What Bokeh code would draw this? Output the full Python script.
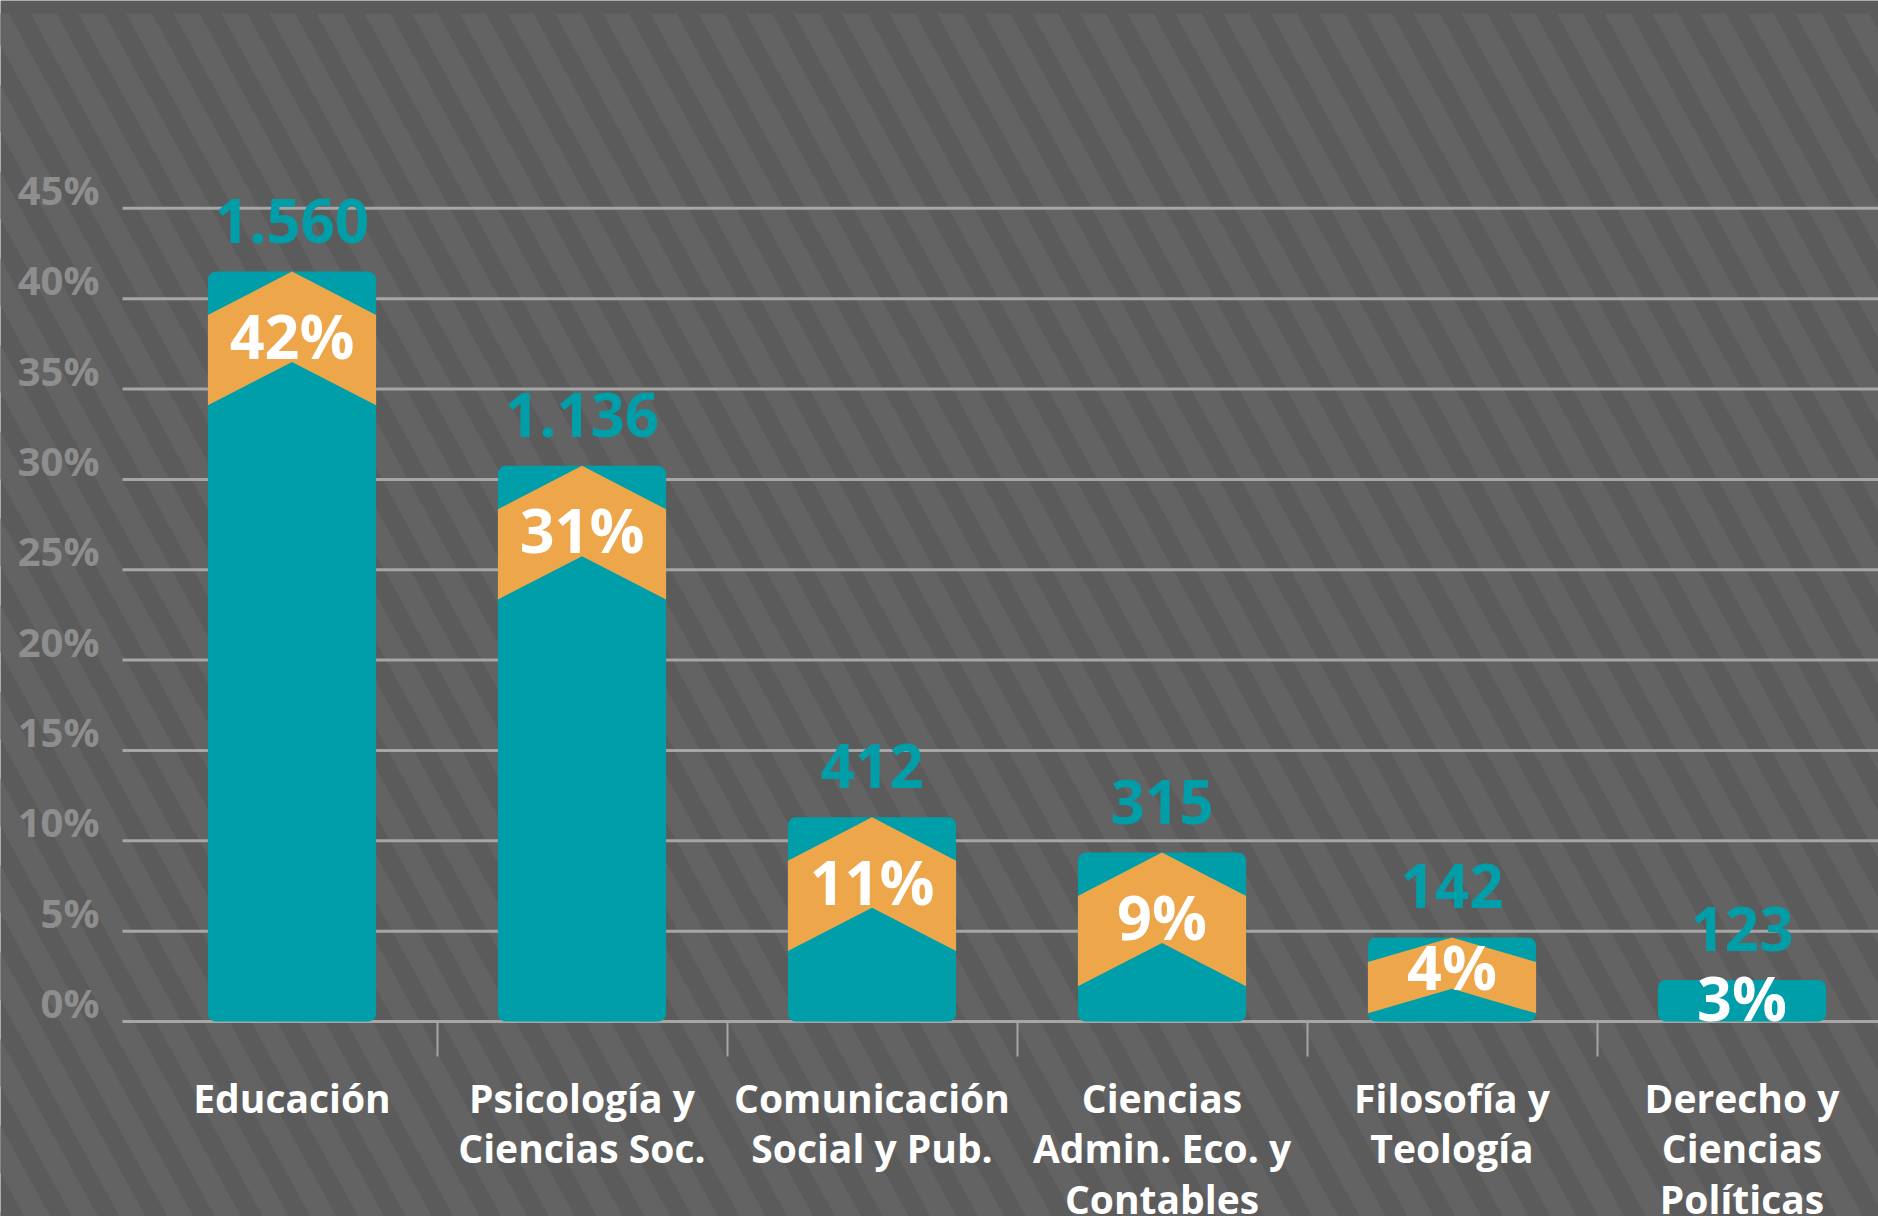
import numpy as np
from bokeh.plotting import figure
from bokeh.models import Range1d, FixedTicker, LinearAxis, ColumnDataSource
from bokeh.core.properties import value
from bokeh.embed import file_html
from bokeh.resources import INLINE

# ---------------- data ----------------
categories = [
    "Educación",
    "Psicología y\nCiencias Soc.",
    "Comunicación\nSocial y Pub.",
    "Ciencias\nAdmin. Eco. y\nContables",
    "Filosofía y\nTeología",
    "Derecho y\nCiencias\nPolíticas",
]
counts = [1560, 1136, 412, 315, 142, 123]
count_labels = ["1.560", "1.136", "412", "315", "142", "123"]
pct_labels = ["42%", "31%", "11%", "9%", "4%", "3%"]
bar_heights = [41.5, 30.75, 11.3, 9.35, 4.65, 2.3]   # % as drawn
y_ticks = [0, 5, 10, 15, 20, 25, 30, 35, 40, 45]
y_tick_labels = ["0%", "5%", "10%", "15%", "20%", "25%", "30%", "35%", "40%", "45%"]

# ---------------- style / layout ----------------
TEAL = "#009ea9"
ORANGE = "#eea64b"
BG = "#5b5b5b"
STRIPE = "#636363"
GRID = "#a6a6a6"
TICK_TXT = "#8e8e8e"

W, H = 1878, 1216
X0_PX, XSTEP = 291.5, 290.0      # pixel of first category centre, px per category
Y0_PX, YSCALE = 1021.0, 18.07    # pixel of 0 %, px per 1 %


def px_to_x(cx):
    return (cx - X0_PX) / XSTEP


def px_to_y(cy):
    return (Y0_PX - cy) / YSCALE


p = figure(width=W, height=H,
           x_range=Range1d(px_to_x(0), px_to_x(W)),
           y_range=Range1d(px_to_y(H), px_to_y(0)),
           output_backend="svg", toolbar_location=None, min_border=0,
           x_axis_location=None, y_axis_location=None)
p.grid.visible = False
p.outline_line_color = None
p.background_fill_color = BG
p.border_fill_color = BG

# background diagonal stripes
P, SW, SLOPE, TOP_BAND = 47.7, 26.0, 0.55, 13.0
phase = 1413.3 % P
start = phase - P * np.ceil((SLOPE * H + P) / P)
sxs, sys_ = [], []
shift = SLOPE * (H - TOP_BAND)
for xl in np.arange(start, W + P, P):
    cx = [xl, xl + SW, xl + SW + shift, xl + shift]
    cy = [TOP_BAND, TOP_BAND, H, H]
    sxs.append([px_to_x(c) for c in cx])
    sys_.append([px_to_y(c) for c in cy])
p.patches(sxs, sys_, fill_color=STRIPE, line_color=None)

# horizontal grid lines (start right of the tick labels)
GRID_X0 = px_to_x(122)
p.segment(x0=[GRID_X0] * len(y_ticks), y0=y_ticks,
          x1=[px_to_x(W)] * len(y_ticks), y1=y_ticks,
          line_color=GRID, line_width=3)

# y tick labels, sitting on top of their grid lines
p.text(x=[GRID_X0] * len(y_ticks), y=y_ticks, text=y_tick_labels,
       text_font=value("Open Sans"), text_font_style="bold",
       text_font_size="40px", text_color=TICK_TXT,
       text_align="right", text_baseline="middle",
       x_offset=-23, y_offset=-19)

# bars
xs = list(range(len(categories)))
BAR_W = 0.58
half = BAR_W / 2
chev_xs, chev_ys, pct_y = [], [], []
for i, h in enumerate(bar_heights):
    if h > 3:
        T = min(5.0, 0.61 * h)
        R = 0.48 * T
        chev_xs.append([i - half, i, i + half, i + half, i, i - half])
        chev_ys.append([h - R, h, h - R, h - R - T, h - T, h - R - T])
        pct_y.append(h - (R + T) / 2 + (0.3 if h < 6 else 0.0))
    else:
        pct_y.append(h / 2)

src = ColumnDataSource(dict(x=xs, top=bar_heights, cnt=count_labels,
                            pct=pct_labels, pct_y=pct_y, n=counts))
p.vbar(x="x", top="top", bottom=0, width=BAR_W, source=src,
       fill_color=TEAL, line_color=None, border_radius=8)
p.patches(chev_xs, chev_ys, fill_color=ORANGE, line_color=None)

p.text(x="x", y="top", text="cnt", source=src,
       text_font=value("Open Sans"), text_font_style="bold",
       text_font_size="60px", text_color=TEAL,
       text_align="center", text_baseline="middle", y_offset=-51)
p.text(x="x", y="pct_y", text="pct", source=src,
       text_font=value("Open Sans"), text_font_style="bold",
       text_font_size="61px", text_color="white",
       text_align="center", text_baseline="middle", y_offset=-3)

# x axis (category labels + separator ticks)
xaxis = LinearAxis(fixed_location=0,
                   ticker=FixedTicker(ticks=xs, minor_ticks=[i + 0.5 for i in xs[:-1]]),
                   major_label_overrides={i: c for i, c in zip(xs, categories)},
                   axis_line_color=None, major_tick_line_color=None,
                   major_tick_out=0, major_tick_in=0,
                   minor_tick_out=35, minor_tick_in=0,
                   minor_tick_line_color=GRID, minor_tick_line_width=2,
                   major_label_standoff=14,
                   major_label_text_font="Open Sans",
                   major_label_text_font_style="bold",
                   major_label_text_font_size="39px",
                   major_label_text_color="white",
                   major_label_text_line_height=0.96)
p.add_layout(xaxis, "below")

open("out.html", "w").write(file_html(p, INLINE))
